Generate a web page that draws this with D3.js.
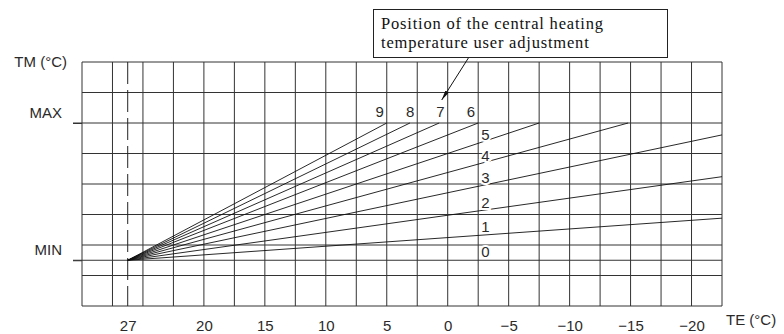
<!DOCTYPE html>
<meta charset="utf-8">
<style>
body { margin: 0; background: #fff; }
svg { display: block; }
.grid line { stroke: #333; stroke-width: 1; }
.curve { fill: none; stroke: #111; stroke-width: 0.9; }
.lbl { font: 15px "Liberation Sans", sans-serif; fill: #2a2a2a; }
.axis text { font: 15px "Liberation Sans", sans-serif; fill: #2a2a2a; }
.axis .domain { display: none; }
.note { font: 16.5px "Liberation Serif", serif; letter-spacing: 0.8px; fill: #111; }
</style>
<svg width="784" height="334"></svg>
<script src="https://cdn.jsdelivr.net/npm/d3@7"></script>
<script>

// external temperature (TE) ticks - the "27" mark sits in the middle of the 2nd column
var tickTE = [26.25, 20, 15, 10, 5, 0, -5, -10, -15, -20],
    tickLabels = ["27", "20", "15", "10", "5", "0", "\u22125", "\u221210", "\u221215", "\u221220"];

// flow temperature (TM) in grid rows
var tmLevels = [6, 1.5],
    tmLabels = ["MAX", "MIN"],
    gridRows = [0, 1, 1.5, 2, 3, 4, 5, 6, 7, 8];

// heating curves 0..9 : all start at (27, MIN), end given below
var curveIds = ["0", "1", "2", "3", "4", "5", "6", "7", "8", "9"],
    curveStartTE = 26.25,
    curveStartTM = 1.5,
    curveEndTE = [-22.5, -22.5, -22.5, -22.5, -14.8, -7.5, -2.5, 0.7, 3.1, 5.0],
    curveEndTM = [1.5, 2.88, 4.24, 5.61, 6, 6, 6, 6, 6, 6],
    topLabelTE = [null, null, null, null, null, null, -2.5, 0, 2.5, 5]; // 6..9 sit above MAX

var svg = d3.select("svg");

var x = d3.scaleLinear().domain([30, -22.5]).range([82, 722]),
    y = d3.scaleLinear().domain([0, 8]).range([306, 62]);

var grid = svg.append("g").attr("class", "grid");

grid.selectAll(".v")
  .data(d3.range(30, -22.6, -2.5))
  .enter().append("line")
    .attr("x1", function(d) { return x(d); })
    .attr("x2", function(d) { return x(d); })
    .attr("y1", y(8))
    .attr("y2", y(0));

grid.selectAll(".h")
  .data(gridRows)
  .enter().append("line")
    .attr("x1", function(d) { return tmLevels.indexOf(d) >= 0 ? x(30) - 9 : x(30); })
    .attr("x2", x(-22.5))
    .attr("y1", function(d) { return y(d); })
    .attr("y2", function(d) { return y(d); });

// dashed line at 27
svg.append("line")
    .attr("x1", x(curveStartTE)).attr("x2", x(curveStartTE))
    .attr("y1", y(8)).attr("y2", y(0))
    .attr("stroke", "#222")
    .attr("stroke-width", 1)
    .attr("stroke-dasharray", "22,6");

var curves = curveIds.map(function(id, i) {
  return { id: id, pts: [[curveStartTE, curveStartTM], [curveEndTE[i], curveEndTM[i]]], i: i };
});

var line = d3.line()
    .x(function(p) { return x(p[0]); })
    .y(function(p) { return y(p[1]); });

// curve 0 lies on the MIN grid line, so it is not drawn a second time
svg.selectAll(".curve")
  .data(curves.filter(function(d) { return d.pts[1][1] !== d.pts[0][1]; }))
  .enter().append("path")
    .attr("class", "curve")
    .attr("d", function(d) { return line(d.pts); });

function tmAt(d, te) {
  var a = d.pts[0], b = d.pts[1];
  return a[1] + (b[1] - a[1]) * (te - a[0]) / (b[0] - a[0]);
}

// labels 0..5 to the right of the -2.5 column
svg.selectAll(".lblLow")
  .data(curves.filter(function(d) { return topLabelTE[d.i] === null; }))
  .enter().append("text")
    .attr("class", "lbl")
    .attr("x", x(-2.5) + 3)
    .attr("y", function(d) { return y(tmAt(d, -2.5)) - 3; })
    .attr("stroke", "#fff")
    .attr("stroke-width", 4)
    .attr("paint-order", "stroke")
    .text(function(d) { return d.id; });

// labels 6..9 above the MAX line
svg.selectAll(".lblTop")
  .data(curves.filter(function(d) { return topLabelTE[d.i] !== null; }))
  .enter().append("text")
    .attr("class", "lbl")
    .attr("x", function(d) { return x(topLabelTE[d.i]) - 3; })
    .attr("y", y(6) - 6)
    .attr("text-anchor", "end")
    .text(function(d) { return d.id; });

// axes
svg.append("g")
    .attr("class", "axis")
    .attr("transform", "translate(0," + y(0) + ")")
    .call(d3.axisBottom(x).tickValues(tickTE)
      .tickFormat(function(d, i) { return tickLabels[i]; })
      .tickSize(0).tickPadding(14));

var yAxis = svg.append("g")
    .attr("class", "axis")
    .attr("transform", "translate(" + x(30) + ",0)")
    .call(d3.axisLeft(y).tickValues(tmLevels)
      .tickFormat(function(d, i) { return tmLabels[i]; })
      .tickSize(9).tickPadding(11));
yAxis.selectAll("text").attr("dy", "-0.4em");
yAxis.selectAll("line").attr("stroke", "#333");

svg.append("text").attr("class", "lbl")
    .attr("x", 67).attr("y", 67)
    .attr("text-anchor", "end")
    .text("TM (\u00b0C)");

svg.append("text").attr("class", "lbl")
    .attr("x", 726).attr("y", 325)
    .text("TE (\u00b0C)");

// note box and arrow
svg.append("defs").append("marker")
    .attr("id", "head")
    .attr("viewBox", "0 0 10 4")
    .attr("refX", 10).attr("refY", 2)
    .attr("markerWidth", 10).attr("markerHeight", 4)
    .attr("markerUnits", "userSpaceOnUse")
    .attr("orient", "auto")
  .append("path")
    .attr("d", "M0,0L10,2L0,4Z")
    .attr("fill", "#111");

svg.append("line")
    .attr("x1", 469).attr("y1", 57)
    .attr("x2", x(0) - 6).attr("y2", y(6) - 23)
    .attr("stroke", "#111")
    .attr("stroke-width", 1)
    .attr("marker-end", "url(#head)");

svg.append("rect")
    .attr("x", 373.5).attr("y", 9.5)
    .attr("width", 294).attr("height", 48)
    .attr("fill", "#fff")
    .attr("stroke", "#222");

svg.append("text").attr("class", "note")
    .attr("x", 381).attr("y", 29)
    .text("Position of the central heating");
svg.append("text").attr("class", "note")
    .attr("x", 381).attr("y", 47.5)
    .text("temperature user adjustment");

</script>
